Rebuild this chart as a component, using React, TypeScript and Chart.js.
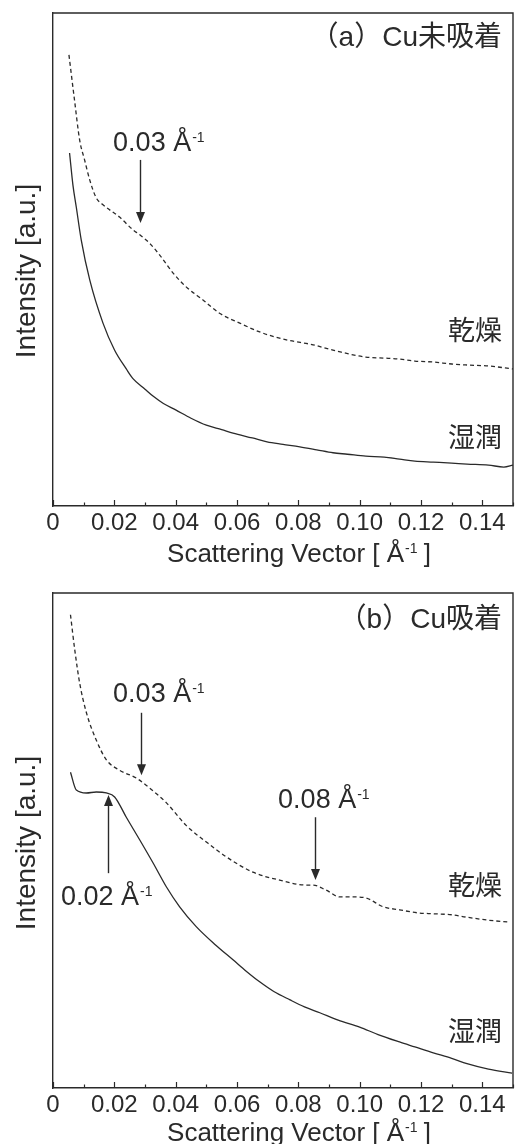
import React, { useEffect, useRef } from "react";
import { Chart, registerables } from "chart.js";

Chart.register(...registerables);

const FONT = '"Liberation Sans", Arial, "Noto Sans CJK JP", sans-serif';
const INK = "#2a2a2a";

// x-axis (Scattering Vector, Å^-1)
const tickValues = [0, 0.02, 0.04, 0.06, 0.08, 0.1, 0.12, 0.14];
const tickLabels = ["0", "0.02", "0.04", "0.06", "0.08", "0.10", "0.12", "0.14"];

// (a) Cu未吸着 — 乾燥 (dashed)
const qDryA = [0.0052, 0.007, 0.0087, 0.0103, 0.012, 0.0141, 0.0163, 0.0217, 0.0261, 0.0283, 0.0315, 0.0348, 0.0391, 0.0435, 0.0489, 0.0543, 0.0609, 0.0674, 0.0761, 0.0848, 0.0913, 0.094, 0.102, 0.108, 0.113, 0.118, 0.124, 0.13, 0.135, 0.142, 0.15];
const iDryA = [91.5, 82.4, 74.2, 70.2, 66.1, 62.5, 61.1, 58.6, 56.0, 55.0, 53.3, 50.9, 47.3, 44.4, 41.8, 39.1, 37.1, 35.3, 33.7, 32.7, 31.6, 31.2, 30.2, 30.0, 29.8, 29.4, 29.2, 28.8, 28.6, 28.4, 27.8];
// (a) Cu未吸着 — 湿潤 (solid)
const qWetA = [0.0054, 0.0065, 0.0076, 0.0092, 0.012, 0.0163, 0.0201, 0.0239, 0.026, 0.03, 0.0326, 0.036, 0.04, 0.045, 0.05, 0.055, 0.0587, 0.065, 0.0698, 0.075, 0.0805, 0.086, 0.0913, 0.096, 0.102, 0.108, 0.113, 0.118, 0.124, 0.13, 0.135, 0.142, 0.147, 0.15];
const iWetA = [71.6, 65.1, 60.6, 54.0, 45.8, 37.1, 31.6, 27.8, 25.9, 23.7, 22.3, 20.8, 19.5, 17.8, 16.4, 15.5, 14.8, 13.8, 13.0, 12.5, 12.0, 11.4, 10.8, 10.5, 10.1, 9.9, 9.5, 9.1, 8.9, 8.7, 8.5, 8.3, 7.9, 8.3];

// (b) Cu吸着 — 乾燥 (dashed)
const qDryB = [0.0057, 0.0071, 0.0087, 0.0109, 0.0141, 0.0174, 0.0217, 0.0272, 0.0315, 0.037, 0.0435, 0.05, 0.0565, 0.0652, 0.0739, 0.0826, 0.0848, 0.089, 0.0936, 0.098, 0.102, 0.1077, 0.113, 0.1187, 0.124, 0.13, 0.135, 0.142, 0.149];
const iDryB = [95.6, 88.5, 81.8, 75.8, 70.3, 66.3, 64.2, 62.6, 60.6, 57.6, 53.0, 49.7, 46.7, 43.6, 42.0, 41.0, 41.0, 40.0, 38.6, 38.6, 38.4, 36.6, 36.0, 35.4, 35.2, 35.0, 34.5, 33.9, 33.5];
// (b) Cu吸着 — 湿潤 (solid)
const qWetB = [0.0057, 0.0076, 0.0109, 0.0141, 0.0174, 0.0201, 0.0239, 0.0283, 0.0326, 0.037, 0.0413, 0.0467, 0.053, 0.0587, 0.063, 0.0675, 0.072, 0.0773, 0.082, 0.087, 0.093, 0.1, 0.106, 0.113, 0.118, 0.124, 0.13, 0.135, 0.142, 0.1497];
const iWetB = [63.8, 60.2, 59.6, 59.8, 59.6, 58.8, 54.7, 50.1, 45.5, 40.6, 36.6, 32.6, 28.9, 25.9, 23.6, 21.4, 19.5, 17.8, 16.4, 15.2, 13.7, 12.3, 10.8, 9.3, 8.3, 7.1, 6.0, 4.9, 3.8, 3.0];

// annotations (data coordinates)
const notesA = [
  { label: "0.03 Å", textQ: 0.0196, textI: 72.0, arrowQ: 0.0284, fromI: 70.2, toI: 57.4 },
];
const notesB = [
  { label: "0.03 Å", textQ: 0.0196, textI: 78.0, arrowQ: 0.0288, fromI: 75.8, toI: 63.2 },
  { label: "0.08 Å", textQ: 0.0734, textI: 56.6, arrowQ: 0.0854, fromI: 54.7, toI: 42.0 },
  { label: "0.02 Å", textQ: 0.0026, textI: 37.0, arrowQ: 0.0179, fromI: 43.4, toI: 59.2 },
];

const panels = [
  {
    title: "（a）Cu未吸着", titleI: 94.9,
    dryQ: qDryA, dryI: iDryA, wetQ: qWetA, wetI: iWetA,
    dryLabelI: 35.1, wetLabelI: 13.4, notes: notesA,
    padTop: 13, axisH: 66, xTitleBase: 562,
  },
  {
    title: "（b）Cu吸着", titleI: 94.5,
    dryQ: qDryB, dryI: iDryB, wetQ: qWetB, wetI: iWetB,
    dryLabelI: 40.4, wetLabelI: 11.1, notes: notesB,
    padTop: 21, axisH: 56, xTitleBase: 569,
  },
];

function drawSup(ctx: CanvasRenderingContext2D, x: number, yBase: number, main: string, sup: string, tail: string, size: number, supSize: number, align: "left" | "center") {
  ctx.font = `${size}px ${FONT}`;
  const wMain = ctx.measureText(main).width;
  const wTail = tail ? ctx.measureText(tail).width : 0;
  ctx.font = `${supSize}px ${FONT}`;
  const wSup = ctx.measureText(sup).width;
  const total = wMain + wSup + wTail;
  const x0 = align === "center" ? x - total / 2 : x;
  ctx.textAlign = "left";
  ctx.textBaseline = "alphabetic";
  ctx.font = `${size}px ${FONT}`;
  ctx.fillText(main, x0, yBase);
  if (tail) ctx.fillText(tail, x0 + wMain + wSup, yBase);
  ctx.font = `${supSize}px ${FONT}`;
  ctx.fillText(sup, x0 + wMain + 1, yBase - size * 0.716 + supSize * 0.716);
}

function drawArrow(ctx: CanvasRenderingContext2D, x: number, y1: number, y2: number) {
  const dir = y2 > y1 ? 1 : -1;
  ctx.beginPath();
  ctx.moveTo(x, y1);
  ctx.lineTo(x, y2 - dir * 8);
  ctx.lineWidth = 1.4;
  ctx.stroke();
  ctx.beginPath();
  ctx.moveTo(x, y2);
  ctx.lineTo(x - 4.5, y2 - dir * 11);
  ctx.lineTo(x + 4.5, y2 - dir * 11);
  ctx.closePath();
  ctx.fill();
}

function Panel({ cfg }: { cfg: any }) {
  const ref = useRef<HTMLCanvasElement>(null);
  useEffect(() => {
    const canvas = ref.current!;
    const decor = {
      id: "decor",
      afterDraw(chart: any) {
        const { ctx, chartArea: ca, scales } = chart;
        const xs = scales.x;
        const ys = scales.y;
        ctx.save();
        ctx.strokeStyle = INK;
        ctx.fillStyle = INK;
        // top & right frame
        ctx.lineWidth = 1.4;
        ctx.beginPath();
        ctx.moveTo(ca.left, ca.top);
        ctx.lineTo(ca.right, ca.top);
        ctx.lineTo(ca.right, ca.bottom);
        ctx.stroke();
        // inward tick marks
        ctx.lineWidth = 1.2;
        xs.ticks.forEach((t: any) => {
          const px = Math.round(xs.getPixelForValue(t.value)) + 0.5;
          const major = Math.round(t.value * 100) % 2 === 0;
          ctx.beginPath();
          ctx.moveTo(px, ca.bottom);
          ctx.lineTo(px, ca.bottom - (major ? 6 : 3.5));
          ctx.stroke();
        });
        // panel title and series labels
        ctx.textAlign = "right";
        ctx.textBaseline = "middle";
        const rx = xs.getPixelForValue(0.1464);
        ctx.font = `28px ${FONT}`;
        ctx.fillText(cfg.title, rx, ys.getPixelForValue(cfg.titleI));
        ctx.font = `27px ${FONT}`;
        ctx.fillText("乾燥", rx, ys.getPixelForValue(cfg.dryLabelI));
        ctx.fillText("湿潤", rx, ys.getPixelForValue(cfg.wetLabelI));
        // annotations
        cfg.notes.forEach((n: any) => {
          drawSup(ctx, xs.getPixelForValue(n.textQ), ys.getPixelForValue(n.textI), n.label, "-1", "", 27, 14, "left");
          drawArrow(ctx, Math.round(xs.getPixelForValue(n.arrowQ)) + 0.5, ys.getPixelForValue(n.fromI), ys.getPixelForValue(n.toI));
        });
        // x-axis title
        drawSup(ctx, (ca.left + ca.right) / 2 + 16, cfg.xTitleBase, "Scattering Vector [ Å", "-1", " ]", 26, 14, "center");
        // y-axis title
        ctx.save();
        ctx.translate(27, 271);
        ctx.rotate(-Math.PI / 2);
        ctx.font = `28px ${FONT}`;
        ctx.textAlign = "center";
        ctx.textBaseline = "middle";
        ctx.fillText("Intensity [a.u.]", 0, 0);
        ctx.restore();
        ctx.restore();
      },
    };
    const chart = new Chart(canvas, {
      type: "line",
      data: {
        datasets: [
          {
            label: "乾燥",
            data: cfg.dryQ.map((q: number, i: number) => ({ x: q, y: cfg.dryI[i] })),
            borderColor: INK,
            borderWidth: 1.3,
            borderDash: [4, 3],
            pointRadius: 0,
            cubicInterpolationMode: "monotone",
            fill: false,
          },
          {
            label: "湿潤",
            data: cfg.wetQ.map((q: number, i: number) => ({ x: q, y: cfg.wetI[i] })),
            borderColor: INK,
            borderWidth: 1.3,
            pointRadius: 0,
            cubicInterpolationMode: "monotone",
            fill: false,
          },
        ],
      },
      options: {
        animation: false,
        responsive: false,
        devicePixelRatio: 1,
        layout: { padding: { left: 0, right: 3, top: cfg.padTop, bottom: 0 } },
        plugins: { legend: { display: false }, tooltip: { enabled: false }, title: { display: false } },
        scales: {
          x: {
            type: "linear",
            min: 0,
            max: 0.15,
            grid: { display: false, drawTicks: false },
            border: { display: true, color: INK, width: 1.4 },
            ticks: {
              stepSize: 0.01,
              autoSkip: false,
              maxRotation: 0,
              minRotation: 0,
              padding: 3,
              color: INK,
              font: { family: FONT, size: 24 },
              callback: (v: any) => {
                const idx = tickValues.findIndex((t) => Math.abs(t - Number(v)) < 1e-6);
                return idx >= 0 ? tickLabels[idx] : "";
              },
            },
            afterFit: (s: any) => {
              s.height = cfg.axisH;
            },
          },
          y: {
            type: "linear",
            min: 0,
            max: 100,
            grid: { display: false, drawTicks: false },
            border: { display: true, color: INK, width: 1.4 },
            ticks: { display: false },
            afterFit: (s: any) => {
              s.width = 53;
            },
          },
        },
      } as any,
      plugins: [decor],
    });
    return () => chart.destroy();
  }, [cfg]);
  return <canvas ref={ref} width={516} height={572} style={{ display: "block", width: 516, height: 572 }} />;
}

export default function App() {
  return (
    <div style={{ position: "absolute", left: 0, top: 0, width: 516, height: 1144, background: "#fff" }}>
      {panels.map((p, i) => (
        <Panel key={i} cfg={p} />
      ))}
    </div>
  );
}
